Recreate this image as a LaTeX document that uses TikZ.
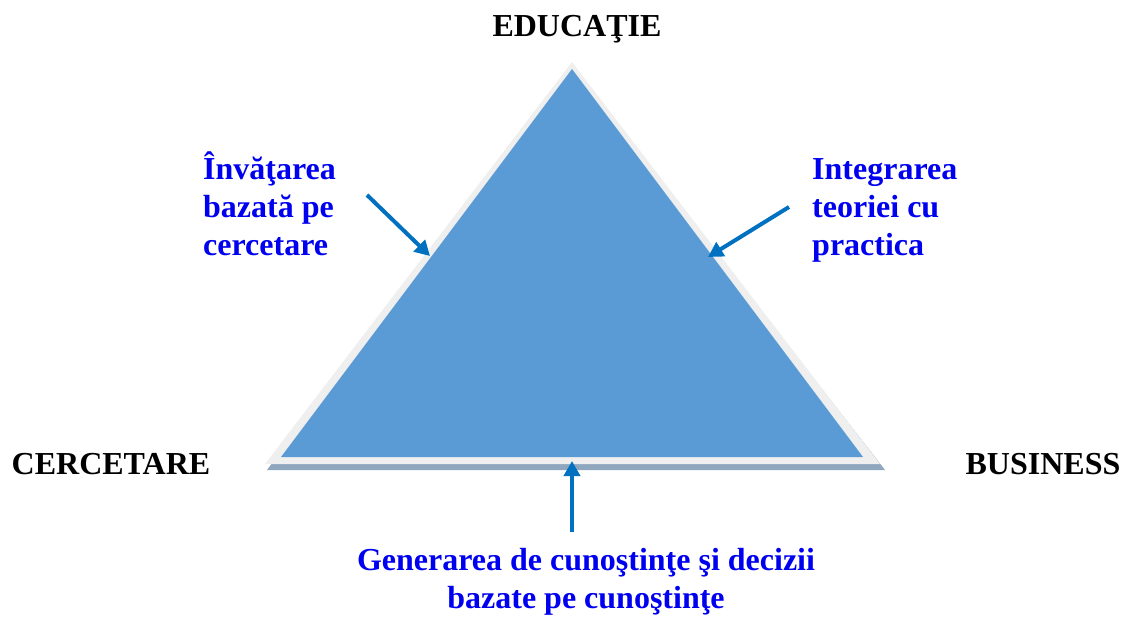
\documentclass[tikz,border=0pt]{standalone}
\usepackage{fontspec}
\setmainfont{Liberation Serif}
\usetikzlibrary{arrows.meta}
\definecolor{trifill}{HTML}{5B9BD5}
\definecolor{triedge}{HTML}{EFEFEF}
\definecolor{trishadow}{HTML}{8EA6BE}
\definecolor{arrblue}{HTML}{0070C0}
\definecolor{lblblue}{HTML}{0000F0}
\tikzset{
	corner/.style={font=\fontsize{32}{38}\selectfont\bfseries, text=black, inner sep=0pt},
	lbl/.style={font=\fontsize{32}{38}\selectfont\bfseries, text=lblblue, inner sep=0pt},
	pointer/.style={draw=arrblue, line width=4pt, -{Triangle[length=15pt,width=16pt]}}
}
\begin{document}
\begin{tikzpicture}[x=1pt, y=-1pt]
		\useasboundingbox (0,0) rectangle (1130,617);
		
		\fill[trishadow] (267,470) -- (885,470) -- (572,68) -- cycle;
		\fill[triedge] (265,464) -- (880,464) -- (572,62) -- cycle;
		\fill[trifill] (281,457) -- (863,457) -- (572,69) -- cycle;
		
		\node (edu) at (577,37) [corner, anchor=base] {EDUCAŢIE};
		\node (cerc) at (111,474) [corner, anchor=base] {CERCETARE};
		\node (bus) at (1043,474) [corner, anchor=base] {BUSINESS};
		
		\node (invat) at (203,256) [lbl, anchor=base west, align=left] {Învăţarea\\bazată pe\\cercetare};
		\node (integr) at (812,256) [lbl, anchor=base west, align=left] {Integrarea\\teoriei cu\\practica};
		\node (gen) at (586,608) [lbl, anchor=base, align=center] {Generarea de cunoştinţe şi decizii\\bazate pe cunoştinţe};
		
		\coordinate (invatS) at (367,195);
		\coordinate (invatT) at (430,256);
		\coordinate (integrS) at (789,207);
		\coordinate (integrT) at (708,257);
		\coordinate (genS) at (572,532);
		\coordinate (genT) at (572,461);
		
		\draw[pointer] (invatS) -- (invatT);
		\draw[pointer] (integrS) -- (integrT);
		\draw[pointer] (genS) -- (genT);
\end{tikzpicture}
\end{document}
